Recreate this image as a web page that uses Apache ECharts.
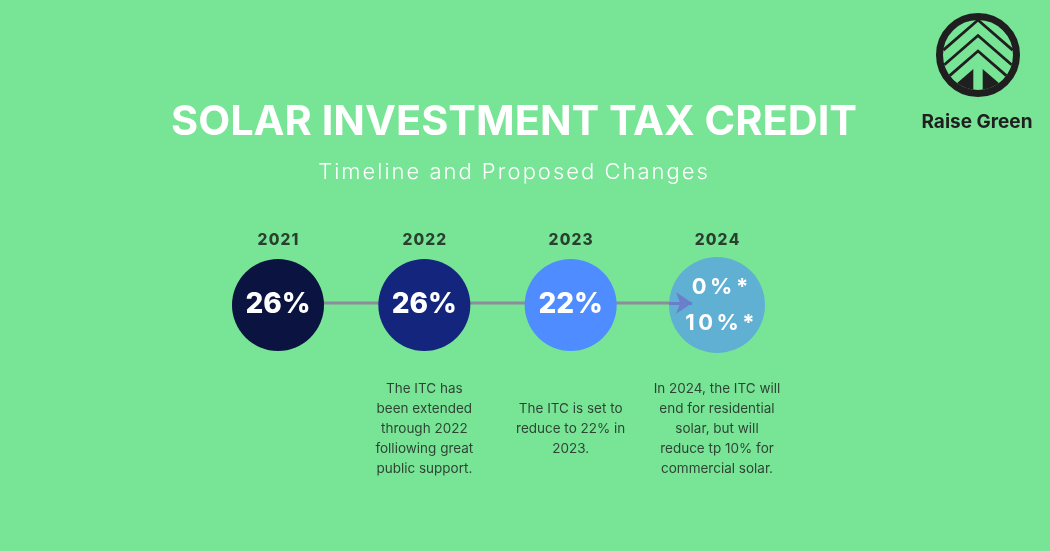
<!DOCTYPE html>
<html>
<head>
<meta charset="utf-8">
<script src="https://cdn.jsdelivr.net/npm/echarts@6/dist/echarts.min.js"></script>
<style>
html,body{margin:0;padding:0;background:#78E496;}
#chart{width:1050px;height:551px;}
</style>
</head>
<body>
<div id="chart"></div>
<script>
// ---- data ----
const titleText = 'SOLAR INVESTMENT TAX CREDIT';
const subtitleText = 'Timeline and Proposed Changes';
const brandText = 'Raise Green';
const years = ['2021', '2022', '2023', '2024'];
const creditLabels = ['26%', '26%', '22%', '0%*\n10%*'];
const descriptions = [
  '',
  'The ITC has\nbeen extended\nthrough 2022\nfolliowing great\npublic support.',
  'The ITC is set to\nreduce to 22% in\n2023.',
  'In 2024, the ITC will\nend for residential\nsolar, but will\nreduce tp 10% for\ncommercial solar.'
];

// ---- styles ----
const BG = '#78E496';
const circleColors = ['#0B1340', '#13257D', '#4E8CFF', '#60B0D3'];
const FONT = 'Inter, "Open Sans", sans-serif';
const spaced = (s, sp) => s.split('').join(sp);

const positions = years.map((_, i) => i);
const pointData = positions.map(i => [i, 0]);

// ---- logo geometry ----
function logo(cx, cy) {
  const R = 35, k = 0.87;
  function halfWidth(apexY) {
    const a = apexY - cy;
    const A = 1 + k * k, B = 2 * a * k, C = a * a - R * R;
    return (-B + Math.sqrt(B * B - 4 * A * C)) / (2 * A);
  }
  const els = [];
  [20, 35.5, 51].forEach(ay => {
    const d = halfWidth(ay);
    els.push({
      type: 'polyline', z: 100,
      shape: { points: [[cx - d, ay + k * d], [cx, ay], [cx + d, ay + k * d]] },
      style: { stroke: '#1F1F1F', lineWidth: 2.8, fill: null }
    });
  });
  const ay = 65;
  const d = halfWidth(ay);
  const pts = [[cx - d, ay + k * d], [cx, ay], [cx + d, ay + k * d]];
  const a0 = Math.atan2(ay + k * d - cy, d);
  const a1 = Math.PI - a0;
  for (let t = 1; t < 20; t++) {
    const ang = a0 + (a1 - a0) * t / 20;
    pts.push([cx + R * Math.cos(ang), cy + R * Math.sin(ang)]);
  }
  els.push({ type: 'polygon', z: 100, shape: { points: pts }, style: { fill: '#1F1F1F' } });
  els.push({ type: 'rect', z: 101, shape: { x: cx - 4.7, y: ay - 2, width: 9.4, height: 40 }, style: { fill: BG } });
  els.push({ type: 'circle', z: 102, shape: { cx: cx, cy: cy, r: 38.5 }, style: { stroke: '#1F1F1F', lineWidth: 7, fill: null } });
  return els;
}

const chart = echarts.init(document.getElementById('chart'), null, { renderer: 'canvas' });

const hidden = { color: 'rgba(0,0,0,0)' };

const option = {
  backgroundColor: BG,
  animation: false,
  grid: { left: 278, right: 333, top: 203, height: 200 },
  xAxis: { type: 'value', min: 0, max: 3, interval: 1, show: false },
  yAxis: { type: 'value', min: -1, max: 1, show: false },
  graphic: [
    {
      type: 'text', x: 514, y: 123, z: 50,
      style: {
        text: titleText, align: 'center', verticalAlign: 'middle',
        fill: '#FFFFFF', font: '700 41.5px ' + FONT
      }
    },
    {
      type: 'text', x: 513, y: 172, z: 50,
      style: {
        text: spaced(subtitleText, '\u200A'), align: 'center', verticalAlign: 'middle',
        fill: '#FFFFFF', font: '300 22px ' + FONT
      }
    },
    {
      type: 'text', x: 977, y: 122, z: 50,
      style: {
        text: brandText, align: 'center', verticalAlign: 'middle',
        fill: '#1F1F1F', font: '700 19px ' + FONT
      }
    }
  ].concat(logo(978, 55)),
  series: [
    {
      name: 'connector', type: 'line', z: 1, silent: true,
      data: pointData, symbol: 'none',
      lineStyle: { color: '#8C8C9C', width: 3 }
    },
    {
      name: 'credit', type: 'scatter', z: 2, silent: true,
      symbol: 'circle', symbolOffset: [0, 2],
      data: pointData.map((p, i) => ({
        value: p,
        symbolSize: i === 3 ? 96 : 92,
        itemStyle: { color: circleColors[i], opacity: 1 }
      })),
      label: {
        show: true, position: 'inside',
        formatter: p => {
          const t = creditLabels[p.dataIndex];
          if (t.indexOf('\n') >= 0) {
            return t.split('\n').map(s => '{s|' + spaced(s, '\u2009') + '}').join('\n');
          }
          return t;
        },
        color: '#FFFFFF', fontFamily: FONT, fontWeight: 800, fontSize: 28,
        rich: { s: { color: '#FFFFFF', fontFamily: FONT, fontWeight: 700, fontSize: 22, lineHeight: 36, padding: [0, 0, 0, 6] } }
      }
    },
    {
      name: 'year', type: 'scatter', z: 3, silent: true,
      data: pointData, symbolSize: 10, itemStyle: hidden,
      label: {
        show: true, position: 'inside', offset: [0, -63],
        formatter: p => spaced(years[p.dataIndex], '\u200A'),
        color: '#151515', fontFamily: FONT, fontWeight: 800, fontSize: 15.5
      }
    },
    {
      name: 'description', type: 'scatter', z: 3, silent: true,
      data: pointData, symbolSize: 10, itemStyle: hidden,
      label: {
        show: true, position: 'inside', offset: [0, 126],
        formatter: p => descriptions[p.dataIndex],
        color: '#1A1A1A', fontFamily: FONT, fontWeight: 400, fontSize: 13.5, lineHeight: 20, align: 'center'
      }
    },
    {
      name: 'arrow', type: 'scatter', z: 5, silent: true, data: [],
      markLine: {
        silent: true, symbol: ['none', 'arrow'], symbolSize: [16, 16],
        label: { show: false },
        lineStyle: { color: '#6A7ECC', width: 3, type: 'solid' },
        data: [[{ coord: [2.672, 0] }, { coord: [2.83, 0] }]]
      }
    }
  ]
};
chart.setOption(option);
</script>
</body>
</html>
